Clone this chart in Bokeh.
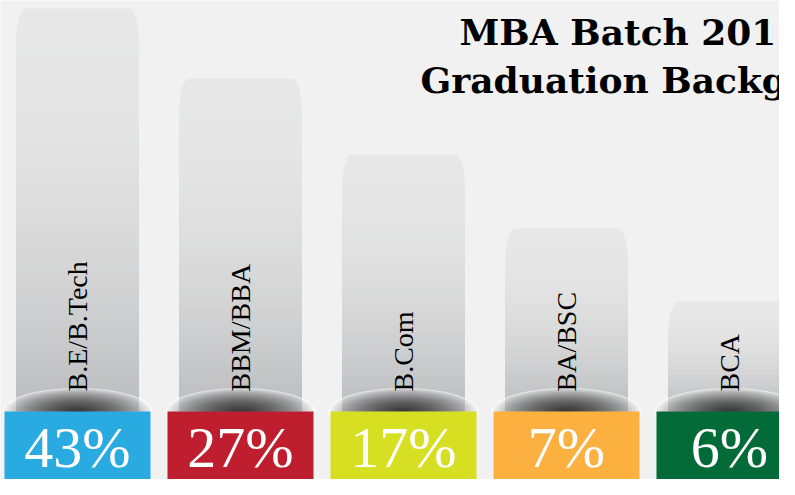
import numpy as np
from bokeh.plotting import figure
from bokeh.models import Range1d
from bokeh.core.properties import value
from bokeh.embed import file_html
from bokeh.resources import INLINE

# ---- data ----
categories = ["B.E/B.Tech", "BBM/BBA", "B.Com", "BA/BSC", "BCA"]
percentages = [43, 27, 17, 7, 6]
bar_heights = [403, 333, 257, 183, 110]   # visual column heights
box_colors = ["#29abe2", "#be1e2d", "#d7df23", "#fbb040", "#036b37"]
title_lines = ["MBA Batch 201", "Graduation Background"]

BG = "#f1f1f1"

# ---- geometry helpers (reference pixel -> data) ----
X0_PX, STEP_PX, BASE_PX = 77.0, 163.0, 411.0
def px2x(px):
    return (px - X0_PX) / STEP_PX
def px2y(py):
    return BASE_PX - py

W, H = 779, 479
p = figure(width=W, height=H, output_backend="svg", toolbar_location=None,
           x_range=Range1d(px2x(0), px2x(W)), y_range=Range1d(px2y(H), px2y(0)),
           min_border=0)
p.axis.visible = False
p.grid.visible = False
p.outline_line_color = None
p.background_fill_color = BG
p.border_fill_color = BG

xs = list(range(len(categories)))
bar_w = 123 / STEP_PX
box_w = 146 / STEP_PX
rx = 10 / STEP_PX
ry = 35.0

top_c = np.array([0xe7, 0xe7, 0xe7])
bot_c = np.array([0xbb, 0xbc, 0xbe])
def hexc(c):
    c = np.clip(np.round(c), 0, 255).astype(int)
    return "#%02x%02x%02x" % tuple(c)

# gradient bands over the full column height
ql, qr, qb, qt, qc = [], [], [], [], []
NB = 70
for x, h in zip(xs, bar_heights):
    edges = np.linspace(0, h, NB + 1)
    for k in range(NB):
        tmid = (edges[k] + edges[k + 1]) / 2 / h
        f = 1 - (1 - tmid) ** 2
        ql.append(x - bar_w / 2); qr.append(x + bar_w / 2)
        qb.append(edges[k]); qt.append(min(h, edges[k + 1] + 0.6))
        qc.append(hexc(bot_c + (top_c - bot_c) * f))
p.quad(left=ql, right=qr, bottom=qb, top=qt, fill_color=qc, line_color=None)

# background-coloured masks rounding the top corners
theta = np.linspace(0, np.pi / 2, 24)
mxs, mys = [], []
for x, h in zip(xs, bar_heights):
    l, r = x - bar_w / 2, x + bar_w / 2
    cx = [l - 0.005] + list(l + rx - rx * np.cos(theta)) + [l - 0.005]
    cy = [h - ry] + list(h - ry + ry * np.sin(theta)) + [h + 1]
    mxs.append(cx); mys.append(cy)
    cx = [r + 0.005] + list(r - rx + rx * np.cos(theta)) + [r + 0.005]
    cy = [h - ry] + list(h - ry + ry * np.sin(theta)) + [h + 1]
    mxs.append(cx); mys.append(cy)
p.patches(mxs, mys, fill_color=BG, line_color=None)

# light glow ellipse
n = len(xs)
p.ellipse(x=xs, y=[0] * n, width=[150 / STEP_PX] * n, height=[46] * n,
          fill_color="white", fill_alpha=0.4, line_color="white", line_alpha=0.5, line_width=1)

# dark radial shadow
N = 30
for k in range(N):
    s = 1 - k / N
    p.ellipse(x=xs, y=[0] * n, width=[146 / STEP_PX * s] * n,
              height=[46 * s] * n, fill_color="black", fill_alpha=0.038, line_color=None)

# category labels
p.text(x=xs, y=[20] * n, text=categories, angle=np.pi / 2,
       text_font=value("Liberation Serif"), text_font_size="28px",
       text_color="black", text_align="left", text_baseline="middle")

# coloured boxes
p.quad(left=[x - box_w / 2 for x in xs], right=[x + box_w / 2 for x in xs],
       bottom=[-200] * n, top=[0] * n, fill_color=box_colors, line_color=None)

p.text(x=xs, y=[-36] * n, text=[f"{v}%" for v in percentages],
       text_font=value("Liberation Serif"), text_font_size="58px",
       text_color="white", text_align="center", text_baseline="alphabetic")

# title
p.text(x=[px2x(459), px2x(420)], y=[px2y(31), px2y(79)], text=title_lines,
       text_font=value("DejaVu Serif"), text_font_style="bold", text_font_size="36px",
       text_color="black", text_align="left", text_baseline="alphabetic")

open("out.html", "w").write(file_html(p, INLINE))
